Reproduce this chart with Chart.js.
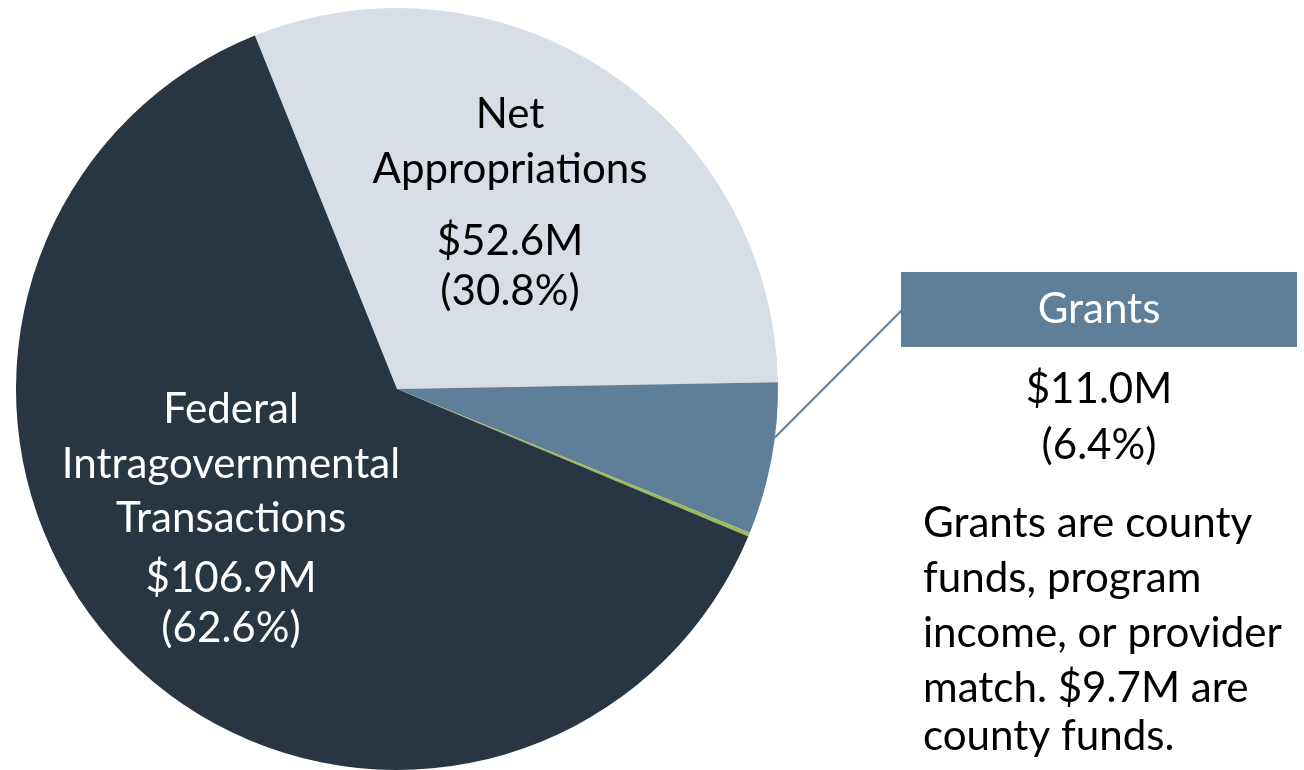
<!DOCTYPE html>
<html>
<head>
<meta charset="utf-8">
<script src="https://cdn.jsdelivr.net/npm/chart.js@4.4.1/dist/chart.umd.min.js"></script>
<style>
  html, body { margin: 0; padding: 0; background: #ffffff; }
  #wrap { width: 1304px; height: 770px; position: relative; }
</style>
</head>
<body>
<div id="wrap"><canvas id="c" width="1304" height="770"></canvas></div>
<script>
// ---- data ----
const categories = ['Net Appropriations', 'Grants', 'Other', 'Federal Intragovernmental Transactions'];
const valuesM = [52.6, 11.0, 0.3, 106.9];
const amountLabels = ['$52.6M', '$11.0M', '', '$106.9M'];
const percentLabels = ['(30.8%)', '(6.4%)', '', '(62.6%)'];
const nameLines = [['Net', 'Appropriations'], ['Grants'], [], ['Federal', 'Intragovernmental', 'Transactions']];
const noteLines = ['Grants are county', 'funds, program', 'income, or provider', 'match. $9.7M are', 'county funds.'];

const colors = ['#d8dee5', '#5f7f99', '#9bbb59', '#283543'];
const FONT = 'Lato, "Open Sans", sans-serif';

function fitSize(ctx, text, width) {
  ctx.font = '100px ' + FONT;
  return 100 * width / ctx.measureText(text).width;
}

const labelPlugin = {
  id: 'labels',
  afterDraw(chart) {
    const ctx = chart.ctx;
    const arcs = chart.getDatasetMeta(0).data;
    const cx = arcs[0].x, cy = arcs[0].y, r = arcs[0].outerRadius;
    ctx.save();
    const fs = fitSize(ctx, 'Appropriations', 275);
    ctx.textAlign = 'center';
    ctx.textBaseline = 'alphabetic';
    ctx.font = fs + 'px ' + FONT;

    // Net Appropriations (slice 0)
    ctx.fillStyle = '#000000';
    const nx = cx + 113;
    const nBase = [128, 183, 255, 305];
    const nText = [nameLines[0][0], nameLines[0][1], amountLabels[0], percentLabels[0]];
    nText.forEach((t, i) => ctx.fillText(t, nx, nBase[i]));

    // Federal (slice 3)
    ctx.fillStyle = '#ffffff';
    const fx = cx - 166;
    const fBase = [423, 478, 532, 592, 642];
    const fText = [...nameLines[3], amountLabels[3], percentLabels[3]];
    fText.forEach((t, i) => ctx.fillText(t, fx, fBase[i]));

    // Grants callout
    const g = arcs[1];
    const ang = g.startAngle + (g.endAngle - g.startAngle) * 0.36;
    const sx = cx + r * Math.cos(ang), sy = cy + r * Math.sin(ang);
    const boxL = 901, boxT = 272, boxW = 396, boxH = 75;
    ctx.strokeStyle = colors[1];
    ctx.lineWidth = 2;
    ctx.beginPath();
    ctx.moveTo(sx, sy);
    ctx.lineTo(boxL + 1, 310);
    ctx.stroke();
    ctx.fillStyle = colors[1];
    ctx.fillRect(boxL, boxT, boxW, boxH);
    ctx.fillStyle = '#ffffff';
    ctx.fillText(nameLines[1][0], boxL + boxW / 2, 323);
    ctx.fillStyle = '#000000';
    ctx.fillText(amountLabels[1], boxL + boxW / 2, 403);
    ctx.fillText(percentLabels[1], boxL + boxW / 2, 459);

    // note
    const ns = fitSize(ctx, 'income, or provider', 359);
    ctx.font = ns + 'px ' + FONT;
    ctx.textAlign = 'left';
    const noteBase = [537, 592, 647, 702, 750];
    noteLines.forEach((t, i) => ctx.fillText(t, 923, noteBase[i]));
    ctx.restore();
  }
};

new Chart(document.getElementById('c'), {
  type: 'pie',
  data: {
    labels: categories,
    datasets: [{
      data: valuesM,
      backgroundColor: colors,
      borderWidth: 0
    }]
  },
  options: {
    responsive: false,
    animation: false,
    rotation: -21.9,
    layout: { padding: { left: 16, right: 526, top: 8, bottom: 0 } },
    plugins: { legend: { display: false }, tooltip: { enabled: false } }
  },
  plugins: [labelPlugin]
});
</script>
</body>
</html>
